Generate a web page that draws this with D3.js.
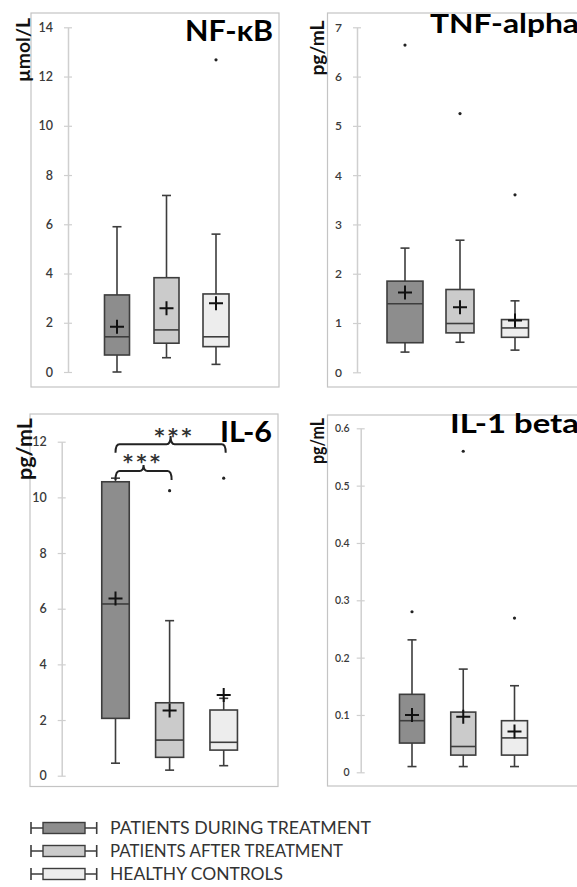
<!DOCTYPE html>
<html>
<head>
<meta charset="utf-8">
<script src="https://cdn.jsdelivr.net/npm/d3@7"></script>
<style>
  html, body { margin: 0; padding: 0; background: #ffffff; }
  svg { display: block; }
</style>
</head>
<body>
<svg id="chart" width="577" height="887"></svg>
<script>
// ---------------- DATA ----------------
const groups = ["PATIENTS DURING TREATMENT", "PATIENTS AFTER TREATMENT", "HEALTHY CONTROLS"];
const panelTitles = ["NF-κB", "TNF-alpha", "IL-6", "IL-1 beta"];
const panelUnits = ["µmol/L", "pg/mL", "pg/mL", "pg/mL"];

// box stats per group: [whisker low, Q1, median, Q3, whisker high]
const nfkbBox = [[0.00, 0.69, 1.43, 3.13, 5.90], [0.58, 1.17, 1.71, 3.83, 7.17], [0.31, 1.03, 1.43, 3.17, 5.60]];
const nfkbMean = [1.84, 2.59, 2.79];
const nfkbOutliers = [[], [], [12.68]];
const nfkbTicks = [0, 2, 4, 6, 8, 10, 12, 14];

const tnfBox = [[0.41, 0.60, 1.39, 1.85, 2.52], [0.61, 0.80, 0.99, 1.68, 2.68], [0.45, 0.71, 0.90, 1.07, 1.45]];
const tnfMean = [1.62, 1.32, 1.05];
const tnfOutliers = [[6.64], [5.25], [3.60]];
const tnfTicks = [0, 1, 2, 3, 4, 5, 6, 7];

const il6Box = [[0.45, 2.06, 6.17, 10.56, 10.69], [0.20, 0.66, 1.28, 2.62, 5.57], [0.36, 0.92, 1.20, 2.36, 2.78]];
const il6Mean = [6.37, 2.34, 2.90];
const il6Outliers = [[], [10.24], [10.69]];
const il6Ticks = [0, 2, 4, 6, 8, 10, 12];
const il6SigPairs = [[0, 1], [0, 2]];
const il6SigLabels = ["***", "***"];

const il1Box = [[0.01, 0.051, 0.090, 0.136, 0.231], [0.01, 0.030, 0.045, 0.105, 0.180], [0.01, 0.030, 0.060, 0.090, 0.151]];
const il1Mean = [0.100, 0.097, 0.071];
const il1Outliers = [[0.280], [0.560], [0.269]];
const il1Ticks = [0, 0.1, 0.2, 0.3, 0.4, 0.5, 0.6];

// ---------------- STYLE / LAYOUT ----------------
const fills = ["#8d8d8d", "#cbcbcb", "#ededed"];
const FONT = "Lato, 'Open Sans', 'DejaVu Sans', sans-serif";
const layout = [
  { frame: [31, 13, 279, 387], axisX: 68, yRange: [372, 27.3], centers: [117, 216], widths: [25, 25, 26],
    title: { x: 185, y: 41, len: 88, size: 28 }, unit: { x: 30, y: 50, len: 64, size: 19 }, tickFont: 12.5, pad: 11 },
  { frame: [327.5, 13, 620, 387], axisX: 357, yRange: [372.3, 27.3], centers: [405, 515], widths: [36, 28, 27],
    title: { x: 430, y: 33, len: 149, size: 27 }, unit: { x: 324, y: 48, len: 55, size: 19 }, tickFont: 12, pad: 11 },
  { frame: [30, 414, 278, 786.5], axisX: 61.7, yRange: [775.7, 441.7], centers: [115.5, 223.7], widths: [27.5, 28, 27.5],
    title: { x: 220, y: 441.7, len: 52, size: 29 }, unit: { x: 32, y: 449, len: 62, size: 20 }, tickFont: 12.5, pad: 11 },
  { frame: [327.5, 415, 620, 786], axisX: 360.7, yRange: [772.3, 428.3], centers: [412, 514.5], widths: [25, 25, 26],
    title: { x: 450, y: 433.3, len: 129, size: 27 }, unit: { x: 324, y: 441, len: 46, size: 18 }, tickFont: 10.5, pad: 7 }
];
const bracketLayout = [
  { bar: 471, end: 480, peak: 465, labelY: 468, labelX: 141.5 },
  { bar: 444.3, end: 452.7, peak: 436, labelY: 442, labelX: 173 }
];

const panelData = [
  { box: nfkbBox, mean: nfkbMean, out: nfkbOutliers, ticks: nfkbTicks },
  { box: tnfBox, mean: tnfMean, out: tnfOutliers, ticks: tnfTicks },
  { box: il6Box, mean: il6Mean, out: il6Outliers, ticks: il6Ticks },
  { box: il1Box, mean: il1Mean, out: il1Outliers, ticks: il1Ticks }
];

const svg = d3.select("#chart");
const STROKE = "#3d3d3d";

panelData.forEach((pd, i) => {
  const L = layout[i];
  const g = svg.append("g");
  g.append("rect")
    .attr("x", L.frame[0]).attr("y", L.frame[1])
    .attr("width", L.frame[2] - L.frame[0]).attr("height", L.frame[3] - L.frame[1])
    .attr("fill", "#fff").attr("stroke", "#c4c4c4").attr("stroke-width", 1.2);

  const y = d3.scaleLinear().domain([pd.ticks[0], pd.ticks[pd.ticks.length - 1]]).range(L.yRange);
  const x = d3.scaleLinear().domain([0, 2]).range(L.centers);

  const axis = d3.axisLeft(y).tickValues(pd.ticks).tickSizeInner(4).tickSizeOuter(0)
    .tickPadding(L.pad).tickFormat(d => String(d));
  const ag = g.append("g").attr("transform", `translate(${L.axisX},0)`).call(axis);
  ag.select(".domain").attr("stroke", "#cfcfcf").attr("stroke-width", 1.5);
  ag.selectAll(".tick line").attr("x1", 4).attr("stroke", "#cfcfcf").attr("stroke-width", 1.2);
  ag.selectAll(".tick text").attr("fill", "#3a3a3a").style("font-family", FONT)
    .style("font-size", L.tickFont + "px").style("font-weight", 600);

  g.append("text")
    .attr("transform", `translate(${L.unit.x},${L.unit.y}) rotate(-90)`)
    .attr("text-anchor", "middle")
    .attr("textLength", L.unit.len).attr("lengthAdjust", "spacingAndGlyphs")
    .style("font-family", FONT).style("font-weight", 700).style("font-size", L.unit.size + "px")
    .attr("fill", "#111").text(panelUnits[i]);

  g.append("text")
    .attr("x", L.title.x).attr("y", L.title.y)
    .attr("textLength", L.title.len).attr("lengthAdjust", "spacingAndGlyphs")
    .style("font-family", FONT).style("font-weight", 700).style("font-size", L.title.size + "px")
    .attr("fill", "#000").text(panelTitles[i]);

  pd.box.forEach((b, k) => {
    const cx = x(k), w = L.widths[k], cap = 4.5;
    const bg = g.append("g");
    bg.append("line").attr("x1", cx).attr("x2", cx).attr("y1", y(b[0])).attr("y2", y(b[4]))
      .attr("stroke", STROKE).attr("stroke-width", 1.6);
    [b[0], b[4]].forEach(v => {
      bg.append("line").attr("x1", cx - cap).attr("x2", cx + cap).attr("y1", y(v)).attr("y2", y(v))
        .attr("stroke", STROKE).attr("stroke-width", 1.6);
    });
    bg.append("rect").attr("x", cx - w / 2).attr("y", y(b[3]))
      .attr("width", w).attr("height", y(b[1]) - y(b[3]))
      .attr("fill", fills[k]).attr("stroke", STROKE).attr("stroke-width", 1.6);
    bg.append("line").attr("x1", cx - w / 2).attr("x2", cx + w / 2).attr("y1", y(b[2])).attr("y2", y(b[2]))
      .attr("stroke", STROKE).attr("stroke-width", 1.6);
    const my = y(pd.mean[k]), s = 7;
    bg.append("path").attr("d", `M${cx - s},${my}H${cx + s}M${cx},${my - s}V${my + s}`)
      .attr("stroke", "#111").attr("stroke-width", 2).attr("fill", "none");
    pd.out[k].forEach(v => {
      bg.append("circle").attr("cx", cx).attr("cy", y(v)).attr("r", 1.6).attr("fill", "#222");
    });
  });

  if (i === 2) {
    il6SigPairs.forEach((pair, j) => {
      const B = bracketLayout[j];
      const x1 = x(pair[0]), x2 = x(pair[1]) + 2, xm = (x1 + x2) / 2, r = 4;
      const d = `M${x1},${B.end} Q${x1},${B.bar} ${x1 + r},${B.bar} L${xm - r},${B.bar} Q${xm},${B.bar} ${xm},${B.peak} ` +
                `Q${xm},${B.bar} ${xm + r},${B.bar} L${x2 - r},${B.bar} Q${x2},${B.bar} ${x2},${B.end}`;
      g.append("path").attr("d", d).attr("fill", "none").attr("stroke", "#222").attr("stroke-width", 2);
      g.append("text").attr("x", B.labelX).attr("y", B.labelY).attr("text-anchor", "middle")
        .attr("textLength", 37).attr("lengthAdjust", "spacing")
        .style("font-family", "'DejaVu Sans', sans-serif").style("font-weight", 700).style("font-size", "19px")
        .attr("fill", "#333").text(il6SigLabels[j]);
    });
  }
});

// legend
const legendRows = [828, 851, 874];
const legendTextLen = [261, 233, 173];
groups.forEach((name, k) => {
  const cy = legendRows[k];
  const lg = svg.append("g");
  lg.append("path").attr("d", `M31,${cy - 6}V${cy + 6}M31,${cy}H43M85,${cy}H96.7M96.7,${cy - 6}V${cy + 6}`)
    .attr("stroke", STROKE).attr("stroke-width", 1.6).attr("fill", "none");
  lg.append("rect").attr("x", 43).attr("y", cy - 5.5).attr("width", 42).attr("height", 11)
    .attr("fill", fills[k]).attr("stroke", STROKE).attr("stroke-width", 1.4);
  lg.append("text").attr("x", 110).attr("y", cy + 6)
    .attr("textLength", legendTextLen[k]).attr("lengthAdjust", "spacingAndGlyphs")
    .style("font-family", FONT).style("font-size", "17px").attr("fill", "#333").text(name);
});
</script>
</body>
</html>
